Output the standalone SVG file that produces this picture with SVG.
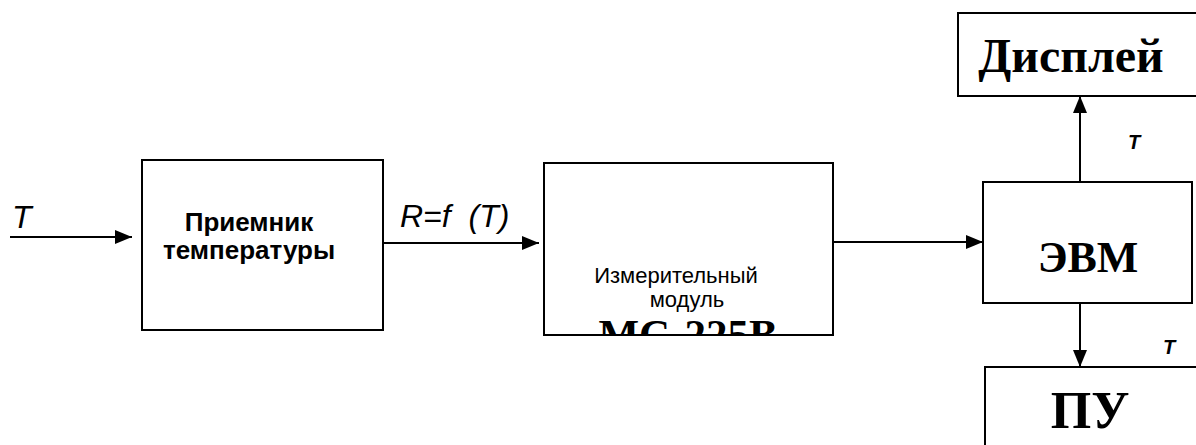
<svg xmlns="http://www.w3.org/2000/svg" width="1196" height="445" viewBox="0 0 1196 445">
<style>
.box{fill:#fff;stroke:#000;stroke-width:2}
.ln{stroke:#000;stroke-width:2;fill:none}
.sans{font-family:"Liberation Sans",Arial,sans-serif}
.serif{font-family:"Liberation Serif","Times New Roman",serif;font-weight:bold}
.lbl{font-family:"Liberation Sans",Arial,sans-serif;font-style:italic;font-size:32px}
.tb{font-family:"Liberation Sans",Arial,sans-serif;font-style:italic;font-weight:bold;font-size:20px}
</style>
<defs>
<marker id="ah" viewBox="0 0 17 14" refX="17" refY="7" markerWidth="17" markerHeight="14" markerUnits="userSpaceOnUse" orient="auto">
<path d="M0,0 L17,7 L0,14 Z" fill="#000"/>
</marker>
<clipPath id="clip2"><rect x="544" y="163" width="289" height="172"/></clipPath>
</defs>
<rect width="1196" height="445" fill="#fff"/>
<g id="connectors">
<line class="ln" x1="10" y1="237" x2="132" y2="237" marker-end="url(#ah)"/>
<line class="ln" x1="370" y1="243" x2="539" y2="243" marker-end="url(#ah)"/>
<line class="ln" x1="833" y1="242" x2="983" y2="242" marker-end="url(#ah)"/>
<line class="ln" x1="1080" y1="182" x2="1080" y2="96" marker-end="url(#ah)"/>
<line class="ln" x1="1080" y1="303" x2="1080" y2="367" marker-end="url(#ah)"/>
<text class="lbl" x="12" y="228">T</text>
<text class="lbl" x="400" y="227" xml:space="preserve">R=f  (T)</text>
<text class="tb" x="1128" y="149">T</text>
<text class="tb" x="1163" y="354">T</text>
</g>
<g id="receiver">
<rect class="box" x="142" y="160" width="241" height="170"/>
<text class="sans" x="249" y="231" font-size="26" font-weight="bold" text-anchor="middle">Приемник</text>
<text class="sans" x="249" y="259" font-size="26" font-weight="bold" text-anchor="middle">температуры</text>
</g>
<g id="module">
<rect class="box" x="544" y="163" width="289" height="172"/>
<text class="sans" x="676" y="283" font-size="22" text-anchor="middle">Измерительный</text>
<text class="sans" x="687" y="307" font-size="22" text-anchor="middle">модуль</text>
<text class="serif" x="688" y="349" font-size="43" text-anchor="middle" clip-path="url(#clip2)">MC-225B</text>
<rect x="544" y="163" width="289" height="172" fill="none" stroke="#000" stroke-width="2"/>
</g>
<g id="evm">
<rect class="box" x="983" y="182" width="209" height="121"/>
<text class="serif" x="1088" y="272" font-size="44" text-anchor="middle">ЭВМ</text>
</g>
<g id="display">
<rect class="box" x="958" y="13" width="250" height="83"/>
<text class="serif" x="1071" y="72" font-size="48" text-anchor="middle">Дисплей</text>
</g>
<g id="pu">
<rect class="box" x="985" y="367" width="230" height="100"/>
<text class="serif" x="1090" y="428" font-size="52" text-anchor="middle">ПУ</text>
</g>
</svg>
